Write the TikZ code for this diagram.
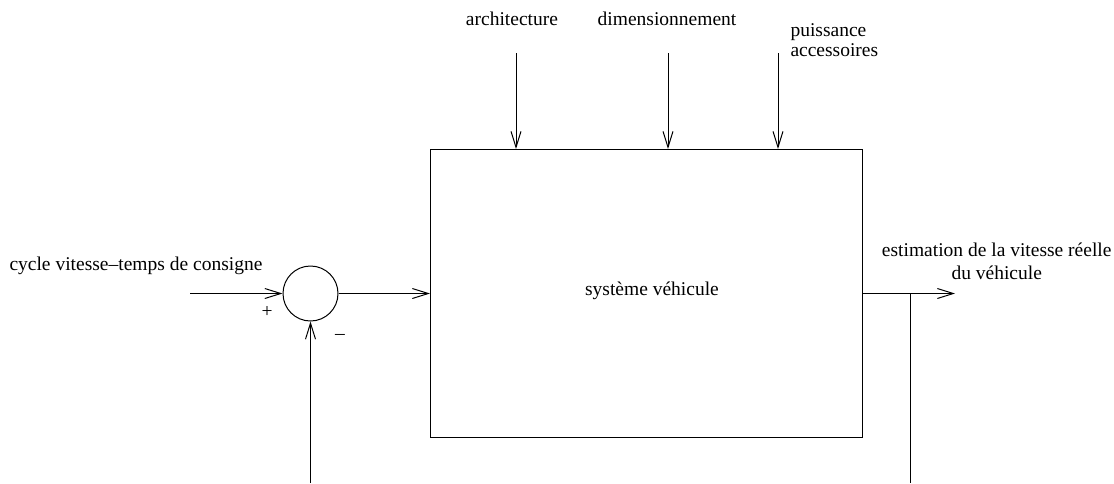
\documentclass[tikz,border=0pt]{standalone}
\usepackage{fontspec}
\setmainfont{Liberation Serif}
\usetikzlibrary{arrows.meta}
\begin{document}
\begin{tikzpicture}[x=1pt,y=-1pt,
  line width=1pt,
  arr/.style={-{Straight Barb[length=16pt,width=10pt,line width=1pt]}},
  lbl/.style={inner sep=0pt,font=\fontsize{19.5}{22}\selectfont},
  ]
\useasboundingbox (0,0) rectangle (1114,483);
\node[draw,rectangle,minimum width=432pt,minimum height=288pt,inner sep=0pt,anchor=north west] (sys) at (430,149) {};
\node[lbl,anchor=base] (syslbl) at (652,295) {système véhicule};
\node[draw,circle,minimum size=55pt,inner sep=0pt] (sum) at (310.5,293.5) {};
% inputs
\coordinate (in) at (190,293.5);
\node[lbl,anchor=base west] (cyc) at (9,270) {cycle vitesse\textendash temps de consigne};
\draw[arr] (in) -- (sum.west);
\draw[arr] (sum.east) -- (sum.east -| sys.west);
\node[lbl] (plus) at (267,312) {+};
\node[lbl] (minus) at (340,337) {\textendash};
% feedback
\coordinate (fb) at (310.5,483);
\draw[arr] (fb) -- (sum.south);
% top inputs
\coordinate (a1) at (516,53);
\coordinate (a2) at (668,53);
\coordinate (a3) at (778,53);
\draw[arr] (a1) -- (a1 |- sys.north);
\draw[arr] (a2) -- (a2 |- sys.north);
\draw[arr] (a3) -- (a3 |- sys.north);
\node[lbl,anchor=base] (arch) at (512,25) {architecture};
\node[lbl,anchor=base] (dim) at (667,25) {dimensionnement};
\node[lbl,anchor=base west] (puis) at (790,36) {puissance};
\node[lbl,anchor=base west] (acc) at (790,56) {accessoires};
% output
\coordinate (out) at (955,293.5);
\draw[arr] (sys.east |- out) -- (out);
\coordinate (br) at (910,293.5);
\coordinate (bb) at (910,483);
\draw (br) -- (bb);
\node[lbl,anchor=base east] (est1) at (1112,256) {estimation de la vitesse réelle};
\node[lbl,anchor=base] (est2) at (est1.base |- 0,279) {du véhicule};
\end{tikzpicture}
\end{document}
